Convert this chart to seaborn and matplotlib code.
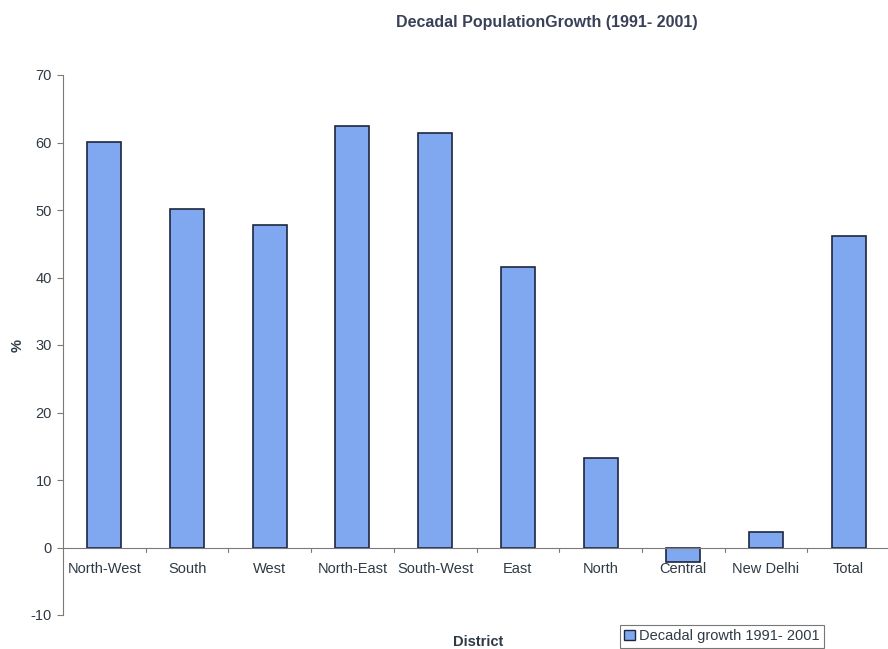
import matplotlib
matplotlib.use("Agg")
import matplotlib.pyplot as plt
import seaborn as sns
import pandas as pd
import numpy as np
from matplotlib.patches import Patch

districts = ["North-West", "South", "West", "North-East", "South-West",
             "East", "North", "Central", "New Delhi", "Total"]
growth = [60.1, 50.1, 47.8, 62.5, 61.4, 41.5, 13.2, -2.2, 2.3, 46.2]

df = pd.DataFrame({"District": districts, "Growth": growth})

sns.set_theme(style="white")
plt.rcParams["font.family"] = ["Liberation Sans", "DejaVu Sans"]
plt.rcParams["axes.unicode_minus"] = False

fig = plt.figure(figsize=(8.88, 6.49), dpi=100)
ax = fig.add_axes([63 / 888, 1 - 615 / 649, 827 / 888, 540 / 649])

bar_color = "#80A8F0"
edge_color = "#1E2640"
text_color = "#2E3A45"

sns.barplot(data=df, x="District", y="Growth", color=bar_color,
            edgecolor=edge_color, linewidth=1.2, width=0.41, saturation=1,
            ax=ax)

ax.set_ylim(-10, 70)
ax.set_xlim(-0.5, len(districts) - 0.5)
ax.set_yticks(np.arange(-10, 71, 10))

for s in ["top", "right", "bottom"]:
    ax.spines[s].set_visible(False)
ax.spines["left"].set_color("#7A7A7A")
ax.spines["left"].set_linewidth(0.8)

# category axis along zero
ax.axhline(0, color="#7A7A7A", linewidth=0.8, zorder=1)
for b in np.arange(0.5, len(districts) - 0.5, 1):
    ax.plot([b, b], [0, -0.7], color="#7A7A7A", linewidth=0.8,
            clip_on=False, zorder=1)

ax.tick_params(axis="y", left=True, length=4, width=0.8, color="#7A7A7A",
               labelsize=10.5, labelcolor=text_color, pad=4)
ax.tick_params(axis="x", bottom=False, labelsize=10.5, labelcolor=text_color)

# x tick labels sit just below the zero line
ax.set_xticks(range(len(districts)))
ax.set_xticklabels([])
for i, name in enumerate(districts):
    ax.text(i, -3.2, name, ha="center", va="center", fontsize=10.5,
            color=text_color)

ax.set_xlabel("")
ax.set_ylabel("")
fig.text(478 / 888, 1 - 642 / 649, "District", ha="center", va="center",
         fontsize=10.5, fontweight="bold", color=text_color)
fig.text(18 / 888, 1 - 345 / 649, "%", ha="center", va="center",
         rotation=90, fontsize=10.5, fontweight="bold", color=text_color)
fig.text(547 / 888, 1 - 22 / 649, "Decadal PopulationGrowth (1991- 2001)",
         ha="center", va="center", fontsize=11.5, fontweight="bold",
         color="#3A4058")

handle = Patch(facecolor=bar_color, edgecolor=edge_color, linewidth=1)
leg = fig.legend([handle], ["Decadal growth 1991- 2001"],
                 loc="upper left", bbox_to_anchor=(620 / 888, 1 - 625 / 649),
                 frameon=True, fancybox=False, fontsize=10.5,
                 handlelength=0.7, handleheight=0.7, handletextpad=0.3,
                 borderpad=0.3, borderaxespad=0)
leg.get_frame().set_edgecolor("#555555")
leg.get_frame().set_linewidth(0.8)
for t in leg.get_texts():
    t.set_color(text_color)

fig.savefig("out.png", dpi=100)
